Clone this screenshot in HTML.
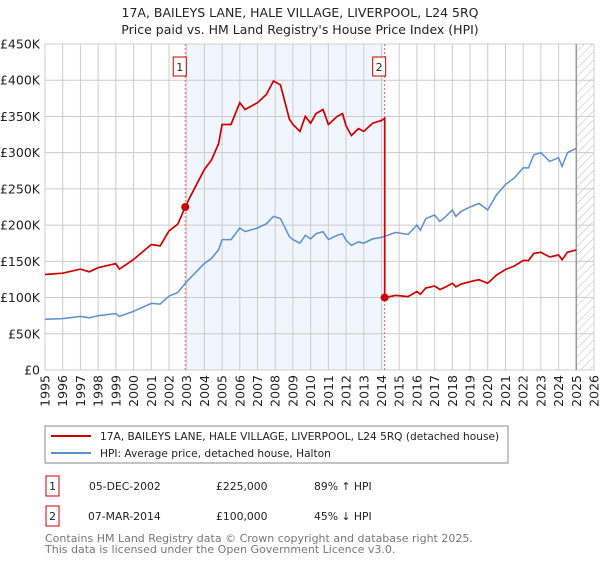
<!DOCTYPE html>
<html><head><meta charset="utf-8"><style>
body{margin:0;background:#fff;font-family:"Liberation Sans","DejaVu Sans",sans-serif;}
svg text{font-family:"DejaVu Sans","Liberation Sans",sans-serif;}
</style></head><body>
<svg id="c" width="600" height="560" xmlns="http://www.w3.org/2000/svg">
<defs><pattern id="hatch" width="6" height="6" patternUnits="userSpaceOnUse" patternTransform="rotate(45)"><line x1="0" y1="0" x2="0" y2="6" stroke="#bbb" stroke-width="1"/></pattern></defs>
<text x="300" y="17" text-anchor="middle" font-size="12.5" fill="#222">17A, BAILEYS LANE, HALE VILLAGE, LIVERPOOL, L24 5RQ</text>
<text x="300" y="34" text-anchor="middle" font-size="12.5" fill="#222">Price paid vs. HM Land Registry's House Price Index (HPI)</text>
<g id="plot"></g>
<rect x="45" y="426" width="463" height="37" fill="#fff" stroke="#888"/>
<line x1="51" y1="436" x2="91" y2="436" stroke="#cc0000" stroke-width="2"/>
<text x="100" y="440" font-size="10.6" fill="#222">17A, BAILEYS LANE, HALE VILLAGE, LIVERPOOL, L24 5RQ (detached house)</text>
<line x1="51" y1="453" x2="91" y2="453" stroke="#5b8fd0" stroke-width="2"/>
<text x="100" y="457" font-size="10.6" fill="#222">HPI: Average price, detached house, Halton</text>
<g font-size="10.8" fill="#222">
<rect x="46" y="476" width="13" height="20" fill="#fff" stroke="#cc0000"/>
<text x="52.5" y="490" text-anchor="middle">1</text>
<text x="89" y="490">05-DEC-2002</text>
<text x="216" y="490">£225,000</text>
<text x="314" y="490">89% ↑ HPI</text></g>
<g font-size="10.8" fill="#222">
<rect x="46" y="506" width="13" height="20" fill="#fff" stroke="#cc0000"/>
<text x="52.5" y="520" text-anchor="middle">2</text>
<text x="88" y="520">07-MAR-2014</text>
<text x="216" y="520">£100,000</text>
<text x="314" y="520">45% ↓ HPI</text></g>
<text x="45" y="542" font-size="11" fill="#777">Contains HM Land Registry data © Crown copyright and database right 2025.</text>
<text x="45" y="553" font-size="11" fill="#777">This data is licensed under the Open Government Licence v3.0.</text>
</svg>
<script>
const hpiYears=[1995,1996,1997,1997.5,1998,1999,1999.2,2000,2001,2001.5,2002,2002.5,2002.9,2003.2,2004,2004.4,2004.8,2005,2005.5,2006,2006.3,2007,2007.5,2007.9,2008.3,2008.8,2009,2009.4,2009.7,2010,2010.3,2010.7,2011,2011.5,2011.8,2012,2012.3,2012.7,2013,2013.5,2014,2014.8,2015.5,2016,2016.2,2016.5,2017,2017.3,2017.6,2018,2018.2,2018.5,2019,2019.5,2020,2020.5,2021,2021.5,2022,2022.3,2022.6,2023,2023.5,2024,2024.2,2024.5,2025];
const hpiValues=[70,71,74,72,75,78,74,81,92,91,102,107,119,127,147,154,166,180,180,196,191,196,202,212,209,184,180,175,186,181,188,191,180,186,188,179,172,177,175,181,183,190,187,200,193,209,214,205,211,221,212,219,225,230,221,242,256,265,279,279,297,300,288,293,281,300,306];
const saleYears=[2002.92,2014.18];
const salePrices=[225,100];
const yTicks=[0,50,100,150,200,250,300,350,400,450];
const yTickLabels=["£0","£50K","£100K","£150K","£200K","£250K","£300K","£350K","£400K","£450K"];
const xTicks=[1995,1996,1997,1998,1999,2000,2001,2002,2003,2004,2005,2006,2007,2008,2009,2010,2011,2012,2013,2014,2015,2016,2017,2018,2019,2020,2021,2022,2023,2024,2025,2026];
const dataEnd=2025.0;

const X0=45,X1=594,Y0=370,Y1=44;
const xs=y=>X0+(y-1995)/(2026-1995)*(X1-X0);
const ys=v=>Y0-v/450*(Y0-Y1);
const NS="http://www.w3.org/2000/svg";
const plot=document.getElementById('plot');
function mk(t,a){const e=document.createElementNS(NS,t);for(const k in a)e.setAttribute(k,a[k]);plot.appendChild(e);return e;}
function hpiAt(t){for(let i=0;i<hpiYears.length-1;i++){if(t<=hpiYears[i+1]){const f=(t-hpiYears[i])/(hpiYears[i+1]-hpiYears[i]);return hpiValues[i]+f*(hpiValues[i+1]-hpiValues[i]);}}return hpiValues[hpiValues.length-1];}

let e=mk('rect',{x:xs(saleYears[0]),y:Y1,width:xs(saleYears[1])-xs(saleYears[0]),height:Y0-Y1,fill:'#eef3fd',opacity:0.8});


e=mk('rect',{x:xs(dataEnd),y:Y1,width:X1-xs(dataEnd),height:Y0-Y1,fill:'url(#hatch)'});


yTicks.forEach((v,i)=>{
  const l=mk('line',{x1:X0,x2:X1,y1:ys(v),y2:ys(v),stroke:'#ccc','stroke-width':1});
  
  
  const t=mk('text',{x:X0-5,y:ys(v)+4.5,'text-anchor':'end','font-size':12.5,fill:'#222'});
  t.textContent=yTickLabels[i];
  
  
});
xTicks.forEach(yr=>{
  const l=mk('line',{x1:xs(yr),x2:xs(yr),y1:Y1,y2:Y0,stroke:'#ccc','stroke-width':1});
  
  
  const t=mk('text',{x:0,y:0,'text-anchor':'end','font-size':12.5,fill:'#222',transform:`translate(${xs(yr)+4.5},375) rotate(-90)`});
  t.textContent=yr;
  
  
});
e=mk('line',{x1:xs(dataEnd),x2:xs(dataEnd),y1:Y1,y2:Y0,stroke:'#999','stroke-width':1.5});


saleYears.forEach((sy,i)=>{
  const l=mk('line',{x1:xs(sy),x2:xs(sy),y1:Y1,y2:Y0,stroke:'#e06060','stroke-width':1,'stroke-dasharray':'2,2'});
  
  
  const r=mk('rect',{x:xs(sy)-12,y:57,width:13,height:19,fill:'#fff',stroke:'#cc0000'});
  
  
  const t=mk('text',{x:xs(sy)-5.5,y:71,'text-anchor':'middle','font-size':11,fill:'#222'});
  t.textContent=String(i+1);
  
  
});
let d='';hpiYears.forEach((yr,i)=>{d+=(i?'L':'M')+xs(yr).toFixed(1)+','+ys(hpiValues[i]).toFixed(1);});
e=mk('path',{d:d,fill:'none',stroke:'#5b8fd0','stroke-width':1.5});


const r0=salePrices[0]/hpiAt(saleYears[0]),r1=salePrices[1]/hpiAt(saleYears[1]);
let pd='';
hpiYears.forEach((yr,i)=>{if(yr<saleYears[1]){pd+=(pd?'L':'M')+xs(yr).toFixed(1)+','+ys(hpiValues[i]*r0).toFixed(1);}});
pd+='L'+xs(saleYears[1]).toFixed(1)+','+ys(hpiAt(saleYears[1])*r0).toFixed(1);
pd+='L'+xs(saleYears[1]).toFixed(1)+','+ys(salePrices[1]).toFixed(1);
hpiYears.forEach((yr,i)=>{if(yr>saleYears[1]){pd+='L'+xs(yr).toFixed(1)+','+ys(hpiValues[i]*r1).toFixed(1);}});
e=mk('path',{d:pd,fill:'none',stroke:'#cc0000','stroke-width':1.7});


saleYears.forEach((sy,i)=>{
  const c=mk('circle',{cx:xs(sy),cy:ys(salePrices[i]),r:4,fill:'#cc0000'});
  
  
});
</script>
</body></html>
